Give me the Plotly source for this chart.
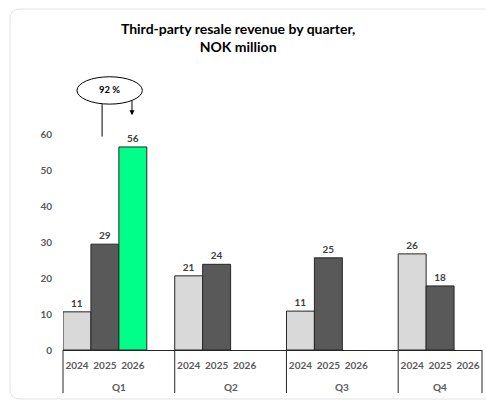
import plotly.graph_objects as go

# ---------------- data ----------------
quarters = ["Q1", "Q2", "Q3", "Q4"]
years = ["2024", "2025", "2026"]
vals_2024 = [10.6, 20.6, 10.8, 26.7]
vals_2025 = [29.4, 23.8, 25.6, 17.8]
vals_2026 = [56.4, None, None, None]
labels_2024 = ["11", "21", "11", "26"]
labels_2025 = ["29", "24", "25", "18"]
labels_2026 = ["56", "", "", ""]
growth_label = "92 %"
title_text = "Third-party resale revenue by quarter,<br>NOK million"
y_ticks = [0, 10, 20, 30, 40, 50, 60]

colors = {"2024": "#d9d9d9", "2025": "#595959", "2026": "#00ff88"}
series = {"2024": (vals_2024, labels_2024),
          "2025": (vals_2025, labels_2025),
          "2026": (vals_2026, labels_2026)}

# ---------------- layout geometry ----------------
W, H = 486, 401
ML, MR, MT, MB = 63, 4, 134, 51
PW, PH = W - ML - MR, H - MT - MB
SLOTS = 4                      # 3 year slots + gap per quarter
XMAX = SLOTS * (len(quarters) - 1) + len(years)   # 15
YMAX = 60

def pos(q, yi):
    return q * SLOTS + yi + 0.5

def px_x(p):  # pixel -> paper
    return (p - ML) / PW

def px_y(p):
    return (H - MB - p) / PH

def dx(x):  # data x -> paper
    return x / XMAX

def dy(y):
    return y / YMAX

fig = go.Figure()
for yi, yr in enumerate(years):
    vals, labs = series[yr]
    xs, ys, ts = [], [], []
    for q in range(len(quarters)):
        if vals[q] is not None:
            xs.append(pos(q, yi)); ys.append(vals[q]); ts.append(labs[q])
    fig.add_trace(go.Bar(
        x=xs, y=ys, width=1, text=ts, textposition="outside",
        cliponaxis=False, name=yr,
        marker=dict(color=colors[yr], line=dict(color="#262626", width=1)),
        textfont=dict(family="Lato", size=10, color="#404040", weight="bold"),
        hoverinfo="skip",
    ))

tickvals = [pos(q, yi) for q in range(len(quarters)) for yi in range(len(years))]
ticktext = [years[yi] for q in range(len(quarters)) for yi in range(len(years))]

shapes = []
# quarter dividers
for q in range(len(quarters)):
    shapes.append(dict(type="line", xref="paper", yref="paper",
                       x0=dx(q * SLOTS), x1=dx(q * SLOTS), y0=0, y1=px_y(393),
                       line=dict(color="#262626", width=1)))
shapes.append(dict(type="line", xref="paper", yref="paper",
                   x0=dx(XMAX), x1=dx(XMAX), y0=0, y1=px_y(393),
                   line=dict(color="#262626", width=1)))
# card border
r = 10
l, t, rr, b = 10, 9, 520, 399
path = (f"M {px_x(l)},{px_y(t + r)} Q {px_x(l)},{px_y(t)} {px_x(l + r)},{px_y(t)} "
        f"L {px_x(rr)},{px_y(t)} L {px_x(rr)},{px_y(b)} L {px_x(l + r)},{px_y(b)} "
        f"Q {px_x(l)},{px_y(b)} {px_x(l)},{px_y(b - r)} Z")
shapes.append(dict(type="path", xref="paper", yref="paper", path=path,
                   line=dict(color="#e3e3e3", width=1), layer="below"))
# growth ellipse
shapes.append(dict(type="circle", xref="paper", yref="paper",
                   x0=dx(0.5), x1=dx(2.84), y0=dy(68.3), y1=dy(75.9),
                   line=dict(color="black", width=1), fillcolor="white"))
# line from ellipse down to 2025 bar
shapes.append(dict(type="line", xref="paper", yref="paper",
                   x0=dx(1.4), x1=dx(1.4), y0=dy(68.3), y1=dy(59.3),
                   line=dict(color="black", width=1)))

annotations = []
for q, ql in enumerate(quarters):
    n = len(years) if q == len(quarters) - 1 else SLOTS
    annotations.append(dict(text=ql, xref="paper", yref="paper",
                            x=dx(q * SLOTS + n / 2), y=px_y(387),
                            showarrow=False, xanchor="center", yanchor="middle",
                            font=dict(family="Lato", size=10, color="#595959", weight="bold")))
annotations.append(dict(text=growth_label, xref="paper", yref="paper",
                        x=dx(1.67), y=dy(72.3), showarrow=False,
                        xanchor="center", yanchor="middle",
                        font=dict(family="Lato", size=9.5, color="black", weight="bold")))
annotations.append(dict(text="", xref="paper", yref="paper",
                        x=dx(2.47), y=dy(65.2), ax=0, ay=-16,
                        showarrow=True, arrowhead=2, arrowsize=1, arrowwidth=1,
                        arrowcolor="black"))

fig.update_layout(
    width=W, height=H, barmode="overlay",
    margin=dict(l=ML, r=MR, t=MT, b=MB),
    paper_bgcolor="white", plot_bgcolor="white",
    showlegend=False,
    title=dict(text=title_text, xref="container", yref="container",
               x=0.49, xanchor="center", y=1 - 34 / H, yanchor="middle",
               font=dict(family="Lato", size=14, color="black", weight="bold")),
    xaxis=dict(range=[0, XMAX], tickvals=tickvals, ticktext=ticktext,
               showgrid=False, zeroline=False, showline=True,
               linecolor="#262626", linewidth=1, ticks="",
               ticklabelstandoff=6,
               tickfont=dict(family="Lato", size=10, color="#595959", weight="bold"),
               fixedrange=True),
    yaxis=dict(range=[0, YMAX], tickvals=y_ticks, showgrid=False,
               zeroline=False, showline=False, ticks="",
               ticklabelstandoff=10,
               tickfont=dict(family="Lato", size=10, color="#595959", weight="bold"),
               fixedrange=True),
    shapes=shapes, annotations=annotations,
)

fig.write_html("out.html")
